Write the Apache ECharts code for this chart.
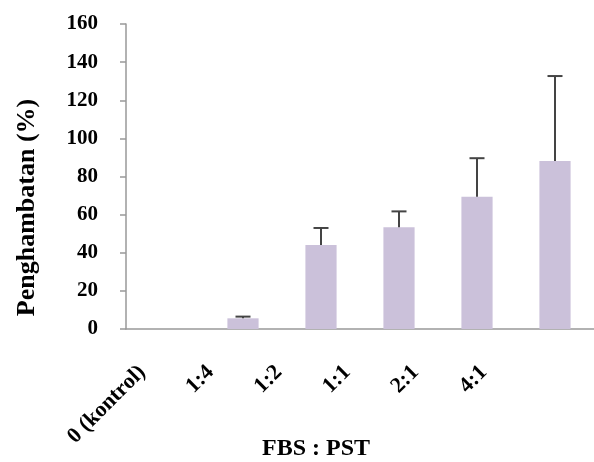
<!DOCTYPE html>
<html>
<head>
<meta charset="utf-8">
<script src="https://cdn.jsdelivr.net/npm/echarts@6/dist/echarts.min.js"></script>
<style>
  html, body { margin: 0; padding: 0; background: #fff; }
  #chart { width: 594px; height: 462px; }
</style>
</head>
<body>
<div id="chart"></div>
<script>
// data
const categories = ['0 (kontrol)', '1:4', '1:2', '1:1', '2:1', '4:1']
const means = [0, 5.6, 44.1, 53.4, 69.4, 88.1]
const upperErr = [0, 6.5, 53.0, 61.7, 89.6, 132.7]

const serif = '"Liberation Serif", "DejaVu Serif", serif'
const txt = { fontFamily: serif, fontWeight: 'bold', color: '#000' }

const chart = echarts.init(document.getElementById('chart'))

const option = {
  animation: false,
  grid: [
    { left: 126, right: 0, top: 24, bottom: 133, outerBoundsMode: 'none' },
    // the tick labels sit on a tighter pitch than the bars in the original
    { left: 108, right: 76, top: 24, bottom: 133, outerBoundsMode: 'none' }
  ],
  xAxis: [
    {
      type: 'category',
      gridIndex: 0,
      data: categories,
      name: 'FBS : PST',
      nameLocation: 'middle',
      nameGap: 108,
      nameTextStyle: { ...txt, fontSize: 24, padding: [0, 88, 0, 0] },
      axisLine: { lineStyle: { color: '#999', width: 1.5 } },
      axisTick: { length: 6, lineStyle: { color: '#999', width: 1.5 } },
      axisLabel: { show: false }
    },
    {
      type: 'category',
      gridIndex: 1,
      data: categories,
      axisLine: { show: false },
      axisTick: { show: false },
      axisLabel: { ...txt, rotate: 45, margin: 40, fontSize: 22, interval: 0 }
    }
  ],
  yAxis: [
    {
      type: 'value',
      gridIndex: 0,
      min: 0,
      max: 160,
      interval: 20,
      name: 'Penghambatan (%)',
      nameLocation: 'middle',
      nameGap: 86,
      nameRotate: 90,
      nameTextStyle: { ...txt, fontSize: 26, padding: [0, 62, 0, 0] },
      axisLine: { show: true, lineStyle: { color: '#999', width: 1.5 } },
      axisTick: { show: true, length: 6, lineStyle: { color: '#999', width: 1.5 } },
      splitLine: { show: false },
      axisLabel: { ...txt, margin: 28, fontSize: 21 }
    },
    { type: 'value', gridIndex: 1, min: 0, max: 160, show: false }
  ],
  series: [
    {
      type: 'bar',
      data: means,
      barWidth: '40%',
      itemStyle: { color: '#cbc1da' }
    },
    {
      // upper error bars
      type: 'custom',
      data: categories.map((c, i) => [i, means[i], upperErr[i]]),
      z: 3,
      renderItem: (params, api) => {
        const idx = api.value(0)
        if (api.value(2) <= api.value(1)) return
        const base = api.coord([idx, api.value(1)])
        const top = api.coord([idx, api.value(2)])
        const half = 7.5
        const style = { stroke: '#444', lineWidth: 2 }
        return {
          type: 'group',
          children: [
            { type: 'line', shape: { x1: base[0], y1: base[1], x2: top[0], y2: top[1] }, style },
            { type: 'line', shape: { x1: top[0] - half, y1: top[1], x2: top[0] + half, y2: top[1] }, style }
          ]
        }
      }
    }
  ]
}

chart.setOption(option)
</script>
</body>
</html>
